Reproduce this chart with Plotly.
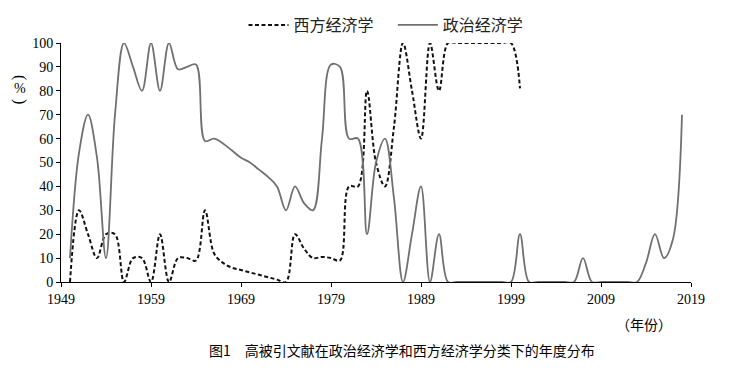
import plotly.graph_objects as go

years_pol = list(range(1950, 2019))
political = [10, 54, 70, 52, 10, 70, 100, 90, 80, 100,
             80, 100, 89, 90, 91, 59, 60, 58, 55, 52,
             50, 47, 44, 40, 30, 40, 33, 30, 60, 91,
             90, 60, 60, 20, 50, 60, 35, 0, 20, 40,
             0, 20, 0, 0, 0, 0, 0, 0, 0, 0,
             20, 0, 0, 0, 0, 0, 0, 10, 0, 0,
             0, 0, 0, 0, 8, 20, 10, 18, 70]

years_west = list(range(1950, 2001))
western = [0, 30, 20, 10, 20, 20, 0, 10, 10, 0,
           20, 0, 10, 10, 9, 30, 12, 8, 6, 5,
           4, 3, 2, 1, 0, 20, 14, 10, 10.5, 10,
           9, 40, 40, 80, 50, 40, 65, 100, 80, 60,
           100, 80, 100, 100, 100, 100, 100, 100, 100, 100,
           81]

x_ticks = list(range(1949, 2020, 10))
y_ticks = list(range(0, 101, 10))

serif = "Liberation Serif"
cjk = "Noto Sans CJK SC"

# page body has an 8px margin; compensate so the plot lands where the reference has it
OFF = 8
fig = go.Figure()
fig.add_trace(go.Scatter(
    x=years_west, y=western, mode="lines", name="西方经济学\u00a0\u00a0\u00a0\u00a0",
    line=dict(color="#111111", width=2, dash="4px,2.5px", shape="spline", smoothing=1.0),
))
fig.add_trace(go.Scatter(
    x=years_pol, y=political, mode="lines", name="政治经济学",
    line=dict(color="#707070", width=1.8, shape="spline", smoothing=1.0),
))

fig.update_layout(
    width=731, height=374,
    margin=dict(l=61 - OFF, r=731 - (61 - OFF) - 630, t=43 - OFF, b=374 - (43 - OFF) - 239,
                autoexpand=False),
    paper_bgcolor="white", plot_bgcolor="white",
    showlegend=True,
    legend=dict(orientation="h", x=(386 - OFF - 53) / 630, xanchor="center",
                yref="container", y=1.0, yanchor="top",
                font=dict(family=cjk, size=16, color="#222"), itemwidth=40,
                bgcolor="rgba(0,0,0,0)"),
    xaxis=dict(range=[1949, 2019], tickvals=x_ticks, ticktext=[str(v) for v in x_ticks],
               showline=True, linecolor="black", linewidth=1, ticks="outside", ticklen=4,
               tickcolor="black", showgrid=False, zeroline=False,
               tickfont=dict(family=serif, size=14, color="black")),
    yaxis=dict(range=[0, 100], tickvals=y_ticks,
               showline=True, linecolor="black", linewidth=1, ticks="outside", ticklen=4,
               tickcolor="black", showgrid=False, zeroline=False,
               tickfont=dict(family=serif, size=14, color="black")),
    annotations=[
        dict(text="(", x=-0.065, y=(282 - 77) / 239, xref="paper", yref="paper",
             showarrow=False, textangle=90, font=dict(family=serif, size=16, color="black"),
             xanchor="center", yanchor="middle"),
        dict(text="%", x=-0.065, y=(282 - 89) / 239, xref="paper", yref="paper",
             showarrow=False, font=dict(family=serif, size=14, color="black"),
             xanchor="center", yanchor="middle"),
        dict(text=")", x=-0.065, y=(282 - 101) / 239, xref="paper", yref="paper",
             showarrow=False, textangle=90, font=dict(family=serif, size=16, color="black"),
             xanchor="center", yanchor="middle"),
        dict(text="（年份）", x=0.925, y=-0.176, xref="paper", yref="paper",
             showarrow=False, font=dict(family=cjk, size=14, color="black"),
             xanchor="center", yanchor="middle"),
        dict(text="图1　高被引文献在政治经济学和西方经济学分类下的年度分布", x=0.541, y=-0.285,
             xref="paper", yref="paper", showarrow=False,
             font=dict(family=cjk, size=14, color="black"),
             xanchor="center", yanchor="middle"),
    ],
)

fig.write_html("out.html")
